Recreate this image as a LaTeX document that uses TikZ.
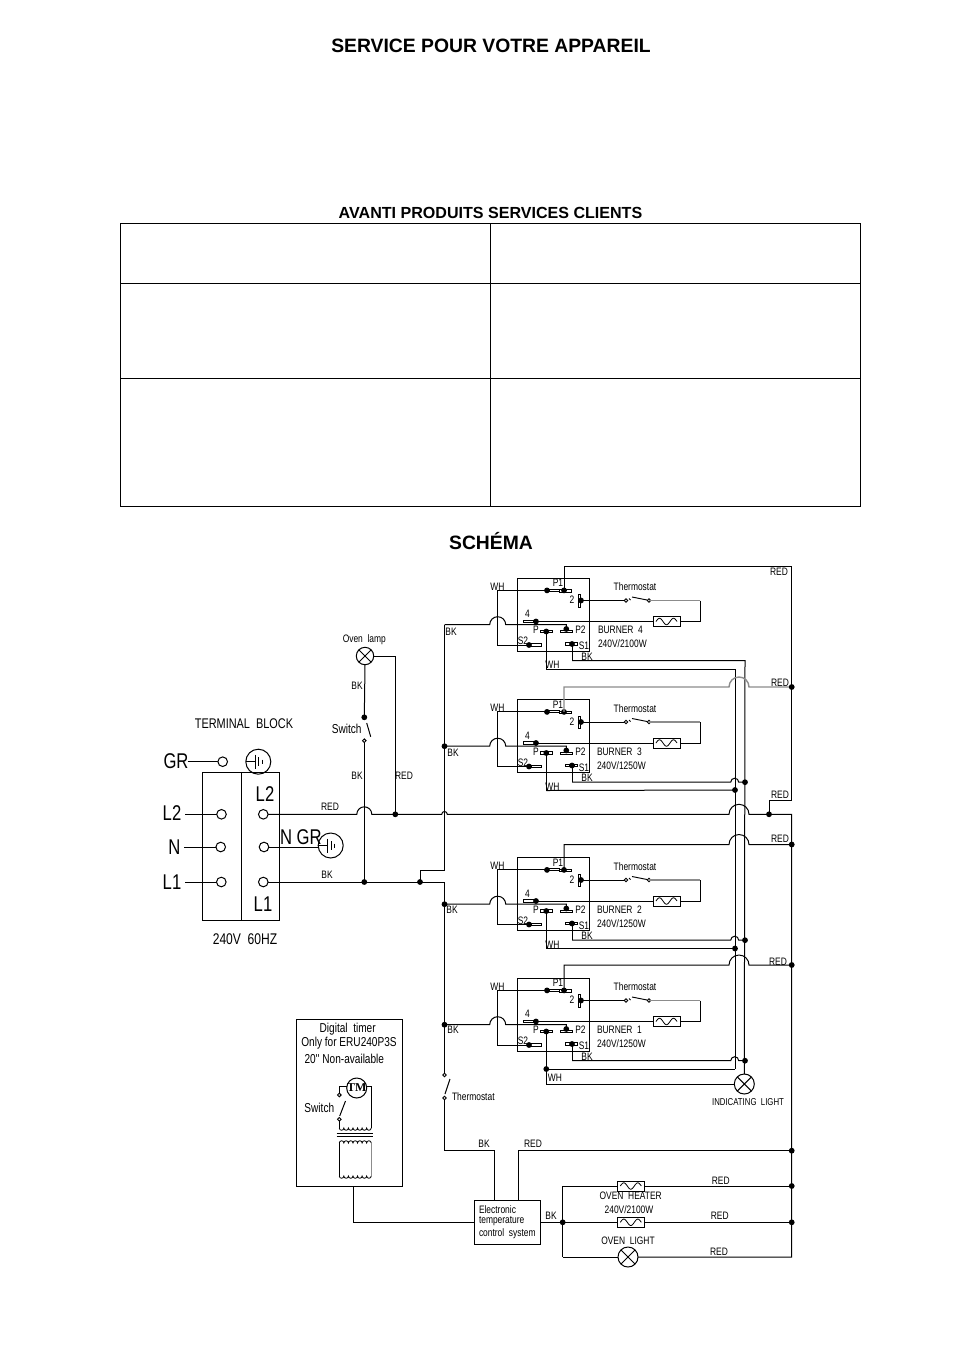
\documentclass[tikz,border=0pt]{standalone}
\usepackage{fontspec}
\setmainfont{Liberation Sans}
\newfontfamily\cad[FakeStretch=0.78]{Liberation Sans}
\newfontfamily\tmfont{Liberation Serif}
\newcounter{tn}
\tikzset{
  wire/.style={line width=0.75pt,line join=miter},
  gwire/.style={line width=1.05pt,draw=black!45},
  txt/.style={inner sep=0pt,outer sep=0pt,font=\cad\fontsize{8.1}{9}\selectfont},
  timertxt/.style={txt,font=\cad\fontsize{9.7}{11}\selectfont},
  midtxt/.style={txt,font=\cad\fontsize{10.5}{12}\selectfont},
  volttxt/.style={txt,font=\cad\fontsize{11.6}{13}\selectfont},
  bigtxt/.style={txt,font=\cad\fontsize{16}{18}\selectfont},
  headtxt/.style={inner sep=0pt,font=\bfseries\fontsize{14.5}{16}\selectfont},
  subtxt/.style={inner sep=0pt,font=\bfseries\fontsize{12.05}{14}\selectfont},
  bar/.style={draw,line width=0.65pt,fill=white},
  ringnode/.style={draw,line width=0.75pt,fill=white}
}
\newcommand{\lb}[4][txt]{\stepcounter{tn}\node[#1] (t\thetn) at (#2,#3) {#4};}
\newcommand{\jdot}[1]{\fill (#1) circle[radius=2.9];}
\newcommand{\opn}[1]{\draw[line width=0.7pt,fill=white] (#1) circle[radius=1.8];}
\newcommand{\heater}[3]{%
  \coordinate (#1) at (#2,#3);
  \draw[wire,fill=white] (#2-13.5,#3-5) rectangle (#2+13.5,#3+5);
  \draw[line width=0.6pt] plot[domain=0:1,samples=40,smooth] ({#2-10.5+21*\x},{#3-3.2*sin(540*\x)});
  \coordinate (#1w) at (#2-13.5,#3); \coordinate (#1e) at (#2+13.5,#3);}
\newcommand{\lamp}[4]{%
  \coordinate (#1) at (#2,#3);
  \draw[wire] (#1) circle[radius=#4];
  \draw[wire] (#2-0.707*#4,#3-0.707*#4) -- (#2+0.707*#4,#3+0.707*#4) (#2-0.707*#4,#3+0.707*#4) -- (#2+0.707*#4,#3-0.707*#4);}
\newcommand{\gnd}[3]{%
  \coordinate (#1) at (#2,#3);
  \draw[wire] (#1) circle[radius=12.5];
  \draw[wire] (#2-12.5,#3) -- (#2-3,#3) (#2-3,#3-7) -- (#2-3,#3+7) (#2+0.5,#3-4.5) -- (#2+0.5,#3+4.5);
  \draw[wire] (#2+4,#3-2) -- (#2+4,#3+2);}
% #1 name  #2 top of box  #3 burner title  #4 rating  #5 text shift
\newcommand{\burner}[5]{%
\begin{scope}[shift={(517,#2)}]
  \draw[wire] (0,0) rectangle (72.3,73);
  % P1
  \draw[bar] (30,11.3) rectangle (42,13.4);
  \draw[bar] (42,11.5) rectangle (54.5,14.2);
  \draw[wire] (30,12.4) -- (-19.3,12.4) -- (-19.3,67) -- (12,67);
  \fill (30,12.4) circle[radius=2.9]; \fill (47,12.4) circle[radius=2.9];
  \coordinate (#1p1) at (47,12.4);
  % 2
  \draw[bar] (61,16.7) rectangle (63.6,29);
  \coordinate (#1two) at (64,22.5); \jdot{#1two}
  \coordinate (#1ta) at (109,22.5); \coordinate (#1tb) at (132,22.5);
  \draw[wire] (#1two) -- (#1ta);
  \draw[line width=0.7pt] (112,20.5) -- (113.5,22) (115,19) -- (130,22);
  \opn{#1ta}\opn{#1tb}
  % heater
  \heater{#1h}{149.5}{43.5}
  \draw[gwire] (#1tb) -- (183,22.5);
  \draw[wire] (183,22.5) -- (183,43.5) -- (#1he);
  \coordinate (#1four) at (19,43.5);
  \draw[wire] (#1hw) -- (#1four);
  \draw[bar] (6,42.2) rectangle (19,44.6); \jdot{#1four}
  % BK feed with hop over the WH wire
  \coordinate (#1bus) at (-72.5,46.7);
  \draw[wire] (#1bus) -- (-27.3,46.7) arc[start angle=180,end angle=360,radius=8] -- (49.3,46.7) -- (49.3,51);
  \draw[bar] (43,52.6) rectangle (55.7,54.6); \fill (49.3,51) circle[radius=2.9];
  % P
  \draw[bar] (23,52.4) rectangle (35.7,54.8); \coordinate (#1p) at (29.3,53.5); \jdot{#1p}
  \coordinate (#1wh) at (29.3,91);
  \draw[wire] (#1p) -- (#1wh);
  % S1
  \draw[bar] (48,64.8) rectangle (60.7,67.2); \coordinate (#1s) at (55,66); \jdot{#1s}
  \coordinate (#1bk) at (55,82.7);
  \draw[wire] (#1s) -- (#1bk);
  % S2
  \draw[bar] (12,65.8) rectangle (24.7,68.2); \fill (12,67) circle[radius=2.9];
  % labels
  \lb{41}{5}{P1} \lb{55}{22}{2} \lb{10.5}{36}{4} \lb{19}{52}{P} \lb{63.5}{52}{P2}
  \lb{67}{68}{S1} \lb{6}{63}{S2} \lb{-19.5}{8.7}{WH} \lb{70}{78.7}{BK}
  \lb{118}{9}{Thermostat}
  \lb[txt,anchor=west]{#5}{52}{#3}
  \lb[txt,anchor=west]{#5}{66}{#4}
\end{scope}}
\newcommand{\busjoin}[1]{%
  \draw[wire] (#1bk) -- ++(158.7,0) arc[start angle=180,end angle=360,radius=4] -- ++(6.3,0) coordinate (#1j);
  \jdot{#1j}}
\begin{document}
\begin{tikzpicture}[x=0.75pt,y=-0.75pt]
\useasboundingbox (0,0) rectangle (954,1345);
\fill[white] (0,0) rectangle (954,1345);
% headings
\lb[headtxt]{491}{46}{SERVICE POUR VOTRE APPAREIL}
\lb[subtxt]{490.5}{212.5}{AVANTI PRODUITS SERVICES CLIENTS}
\lb[headtxt]{491}{541}{SCHÉMA}
% table
\draw[line width=0.75pt] (120.5,223.5) rectangle (860.5,506.5);
\draw[line width=0.75pt] (490.5,223.5) -- (490.5,506.5);
\draw[line width=0.75pt] (120.5,283.5) -- (860.5,283.5);
\draw[line width=0.75pt] (120.5,378.5) -- (860.5,378.5);
% burners
\burner{bd}{578}{BURNER\ \ 4}{240V/2100W}{81}
\burner{bc}{699.5}{BURNER\ \ 3}{240V/1250W}{80}
\burner{bb}{857.5}{BURNER\ \ 2}{240V/1250W}{80}
\burner{ba}{978}{BURNER\ \ 1}{240V/1250W}{80}
% vertical buses
\coordinate (wtop) at (735,669); \coordinate (ktop) at (745,660.7);
\coordinate (wend) at (735,1069); \lamp{il}{744.3}{1084}{10}
\draw[wire] (bdwh) -- (wtop) -- (wend);
\draw[wire] (bdbk) -- (ktop) -- (744.3,1074);
\draw[wire] (bawh) -- (wend);
\busjoin{bc}\busjoin{bb}\busjoin{ba}
\coordinate (cj) at (735,790); \coordinate (bj) at (735,948.5);
\draw[wire] (bcwh) -- (cj); \draw[wire] (bbwh) -- (bj);
\jdot{cj}\jdot{bj}
% indicating light feed
\jdot{bawh}
\draw[wire] (bawh) -- ++(0,15) -- (734.3,1084);
% red feeds
\coordinate (rtop) at (791.7,566); \coordinate (rlow) at (791.7,800);
\coordinate (rstep) at (769,800); \coordinate (rjoin) at (769,814.3);
\draw[wire] (bdp1) -- (564,566) -- (rtop) -- (rlow) -- (rstep) -- (rjoin);
\coordinate (rc) at (791.7,687);
\draw[gwire] (bcp1) -- (564,687) -- (729,687) arc[start angle=180,end angle=360,radius=10] -- (rc);
\coordinate (rb) at (791.7,844.5);
\draw[wire] (bbp1) -- (564,844.5) -- (729,844.5) arc[start angle=180,end angle=360,radius=10] -- (rb);
\coordinate (ra) at (791.7,965);
\draw[wire] (bap1) -- (564,965) -- (729,965) arc[start angle=180,end angle=360,radius=10] -- (ra);
\jdot{rc}\jdot{rb}\jdot{ra}\jdot{rjoin}
% terminal block
\draw[wire] (202.3,772.3) rectangle (279.3,920) (241.3,772.3) -- (241.3,920);
\coordinate (tgr) at (222.7,761.7); \coordinate (tl2) at (221.5,814.3); \coordinate (tn) at (220.7,847); \coordinate (tl1) at (221.3,882);
\coordinate (ul2) at (263.3,814.3); \coordinate (un) at (264,847); \coordinate (ul1) at (263.3,882);
\coordinate (sgr) at (187.7,761.7); \coordinate (sl2) at (185,814.3); \coordinate (sn) at (184,847); \coordinate (sl1) at (185,882);
\draw[wire] (sgr) -- (tgr); \draw[wire] (sl2) -- (tl2); \draw[wire] (sn) -- (tn); \draw[wire] (sl1) -- (tl1);
\gnd{ga}{258.3}{761.7}
\gnd{gb}{330.7}{845.5}
\draw[wire] (un) -- (318.2,847);
\coordinate (rtail) at (791.7,1257);
% L2 red main
\draw[wire] (ul2) -- (356.8,814.3) arc[start angle=180,end angle=360,radius=7.5] -- (441.7,814.3) arc[start angle=180,end angle=360,radius=2.8] -- (729,814.3) arc[start angle=180,end angle=360,radius=10] -- (791.7,814.3) -- (rtail) -- (638,1257);
% L1 black main
\coordinate (kj) at (364.3,882); \coordinate (kk) at (420,882); \coordinate (kc) at (444.5,882);
\draw[wire] (ul1) -- (kc) -- (444.5,1075);
\draw[wire] (bdbus) -- (444.5,870.7) -- (420,870.7) -- (kk);
\jdot{kj}\jdot{kk}
\foreach \n in {bcbus,bbbus,babus} {\jdot{\n}}
% terminal circles
\foreach \n in {tgr,tl2,tn,tl1,ul2,un,ul1} {\draw[ringnode] (\n) circle[radius=4.8];}
% oven lamp branch
\lamp{ol}{365}{656}{8.7}
\coordinate (sa) at (364.3,717.3); \coordinate (sb) at (364.3,740.7); \coordinate (rb2) at (395.3,814.3);
\draw[wire] (ol) ++(0,8.7) -- (sa);
\draw[wire] (sb) -- (kj);
\draw[wire] (366.7,723) -- (370.7,736.7);
\jdot{sa}\opn{sb}
\draw[wire] (373.7,656) -- (395.3,656) -- (rb2);
\jdot{rb2}
% lower thermostat
\coordinate (tha) at (444.5,1075); \coordinate (thb) at (444.5,1098);
\draw[wire] (450,1079) -- (445,1094);
\draw[wire] (thb) -- (444.5,1150.7) -- (494,1150.7) coordinate (eka) -- (494,1200.7);
\opn{tha}\opn{thb}
% electronic control
\draw[wire] (474.3,1200.7) rectangle (540.7,1244);
\coordinate (eob) at (562.7,1222.3); \coordinate (rt) at (791.7,1150.7); 
\draw[wire] (518.3,1200.7) -- (518.3,1150.7) -- (rt);
\jdot{rt}
\draw[wire] (540.7,1222.3) -- (eob);
% oven loads
\heater{oh}{630.8}{1186}
\heater{oi}{630.8}{1222.3}
\lamp{lo}{628}{1257}{10}
\coordinate (roh) at (791.7,1186); \coordinate (roi) at (791.7,1222.3);
\draw[wire] (562.7,1257) -- (562.7,1186) -- (ohw); \draw[wire] (ohe) -- (roh);
\draw[wire] (eob) -- (oiw); \draw[wire] (oie) -- (roi);
\draw[wire] (562.7,1257) -- (618,1257);
\jdot{eob}\jdot{roh}\jdot{roi}
% digital timer
\draw[wire] (296.7,1019) rectangle (402.3,1186);
\draw[wire] (353.3,1186) -- (353.3,1222.3) -- (474.3,1222.3);
\draw[wire] (356.7,1088) circle[radius=10];
\node[inner sep=0pt,font=\tmfont\bfseries\fontsize{9}{10}\selectfont] (tm) at (356.7,1088) {TM};
\coordinate (tsa) at (339.3,1095); \coordinate (tsb) at (339.3,1119.3);
\draw[wire] (346.7,1086.7) -- (339.3,1086.7) -- (tsa);
\draw[wire] (tsb) -- (339.3,1128);
\draw[wire] (366.7,1086.7) -- (371.3,1086.7) -- (371.3,1128);
\draw[wire] (339.7,1116) -- (345.5,1101);
\opn{tsa}\opn{tsb}
\draw[line width=0.6pt] (339.3,1128) \foreach \i in {1,...,7} {arc[start angle=180,end angle=0,radius=2.28]};
\draw[wire] (336.7,1133.3) -- (372.7,1133.3) (336.7,1136) -- (372.7,1136);
\draw[line width=0.6pt] (339.3,1143) \foreach \i in {1,...,7} {arc[start angle=180,end angle=360,radius=2.28]};
\draw[line width=0.6pt] (339.3,1176) \foreach \i in {1,...,7} {arc[start angle=180,end angle=0,radius=2.28]};
\draw[wire] (339.3,1143) -- (339.3,1176);
\draw[gwire] (371.2,1143) -- (371.2,1176);
% labels
\lb[midtxt]{244}{723.7}{TERMINAL\ \ BLOCK}
\lb[volttxt]{245}{939}{240V\ \ 60HZ}
\lb[bigtxt]{176}{760.7}{GR}
\lb[bigtxt]{172}{812.7}{L2}
\lb[bigtxt]{174.5}{846.7}{N}
\lb[bigtxt]{172}{881.7}{L1}
\lb[bigtxt]{265}{794}{L2}
\lb[bigtxt]{263}{904}{L1}
\lb[bigtxt,anchor=west]{280}{836.7}{N GR}
\lb{330}{806.7}{RED}
\lb{327}{875}{BK}
\lb{357}{775.7}{BK}
\lb{404}{775.7}{RED}
\lb{357}{686}{BK}
\lb[timertxt]{346.7}{729}{Switch}
\lb{364.3}{639.3}{Oven\ \ lamp}
\lb{451}{632}{BK}
\lb{453}{753}{BK}
\lb{452}{910}{BK}
\lb{453}{1030}{BK}
\lb{779}{572}{RED}
\lb{780}{682.7}{RED}
\lb{780}{795}{RED}
\lb{780}{839}{RED}
\lb{778}{961.7}{RED}
\lb{552.5}{665}{WH}
\lb{552.5}{786.5}{WH}
\lb{552.5}{944.5}{WH}
\lb{555}{1078}{WH}
\lb[txt,font=\cad\fontsize{7.5}{9}\selectfont]{748}{1101.7}{INDICATING\ \ LIGHT}
\lb[txt,anchor=west]{452}{1097}{Thermostat}
\lb{484}{1144}{BK}
\lb{533}{1144}{RED}
\lb[txt,anchor=west]{479}{1209.3}{Electronic}
\lb[txt,anchor=west]{479}{1221.3}{temperature}
\lb[txt,anchor=west]{479}{1233.3}{control\ \ system}
\lb{551}{1216}{BK}
\lb{720.7}{1181}{RED}
\lb{719.7}{1216}{RED}
\lb{719}{1251.7}{RED}
\lb{630.7}{1196}{OVEN\ \ HEATER}
\lb{629}{1210}{240V/2100W}
\lb{628}{1240.7}{OVEN\ \ LIGHT}
\lb[timertxt]{347.7}{1029}{Digital\ \ timer}
\lb[timertxt]{349}{1043.3}{Only\ for\ ERU240P3S}
\lb[timertxt]{344.3}{1059}{20''\ Non-available}
\lb[timertxt]{319.3}{1108.3}{Switch}
\end{tikzpicture}
\end{document}
